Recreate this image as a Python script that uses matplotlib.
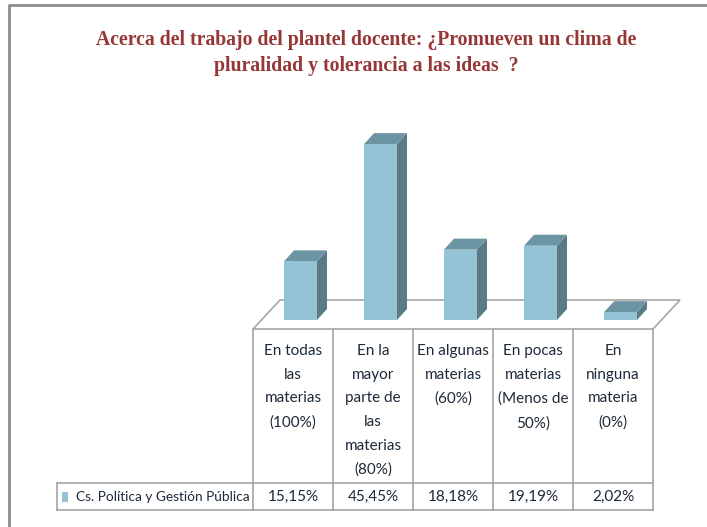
import matplotlib.pyplot as plt
from matplotlib.patches import Polygon, Rectangle

categories = ["En todas\nlas\nmaterias\n(100%)",
              "En la\nmayor\nparte de\nlas\nmaterias\n(80%)",
              "En algunas\nmaterias\n(60%)",
              "En pocas\nmaterias\n(Menos de\n50%)",
              "En\nninguna\nmateria\n(0%)"]
values = [15.15, 45.45, 18.18, 19.19, 2.02]
value_labels = ["15,15%", "45,45%", "18,18%", "19,19%", "2,02%"]
series_name = "Cs. Política y Gestión Pública"
title = "Acerca del trabajo del plantel docente: ¿Promueven un clima de\npluralidad y tolerancia a las ideas  ?"

FRONT = "#93c3d4"
TOP = "#6c95a3"
SIDE = "#5b7a85"
GRID = "#a6a6a6"
TXT = "#1c2a38"
TFONT = ["Lato", "DejaVu Sans"]

W, H = 707, 527
fig = plt.figure(figsize=(W / 100, H / 100), dpi=100)

# background axes in pixel units for frame, title and table
bg = fig.add_axes([0, 0, 1, 1])
bg.set_xlim(0, W)
bg.set_ylim(H, 0)
bg.axis("off")
bg.plot([9, 9, W + 5], [H + 5, 5, 5], color="#8c8c8c", lw=2)

bg.text(366, 53, title, ha="center", va="center", color="#953735",
        fontsize=14.2, fontweight="bold", family=["Liberation Serif", "DejaVu Serif"],
        linespacing=1.45)

# chart axes: x in category slots, y in percent
PX = 3.87      # pixels per percent
left, right = 253, 653
slot = (right - left) / len(values)
y0 = 320
ax = fig.add_axes([left / W, (H - 335) / H, (right - left) / W, (335 - 100) / H])
ax.set_xlim(0, len(values))
ax.set_ylim(-(335 - y0) / PX, (y0 - 100) / PX)
ax.axis("off")

# floor
fdx, fdy = 27 / slot, 29 / PX
ff = -9 / PX
floor = Polygon([(0, ff), (len(values), ff), (len(values) + fdx, ff + fdy), (fdx, ff + fdy)],
                closed=True, facecolor="white", edgecolor=GRID, lw=1.2, clip_on=False, zorder=1)
ax.add_patch(floor)

bw = 33 / slot
off = 31 / slot
ddx, ddy = 10 / slot, 11 / PX
for i, v in enumerate(values):
    x0 = i + off
    side = Polygon([(x0 + bw, 0), (x0 + bw + ddx, ddy), (x0 + bw + ddx, v + ddy), (x0 + bw, v)],
                   closed=True, facecolor=SIDE, edgecolor="none", clip_on=False, zorder=3)
    top = Polygon([(x0, v), (x0 + bw, v), (x0 + bw + ddx, v + ddy), (x0 + ddx, v + ddy)],
                  closed=True, facecolor=TOP, edgecolor="none", clip_on=False, zorder=3)
    ax.add_patch(side)
    ax.add_patch(top)
    ax.bar(x0, v, width=bw, align="edge", color=FRONT, zorder=4)

# data table
cols = [left + slot * i for i in range(len(values) + 1)]
hdr_top, row_top, row_bot = 329, 483, 510
for x in cols:
    bg.plot([x, x], [hdr_top, row_bot], color=GRID, lw=1.2)
bg.plot([57, right], [row_top, row_top], color=GRID, lw=1.2)
bg.plot([57, right], [row_bot, row_bot], color=GRID, lw=1.2)
bg.plot([57, 57], [row_top, row_bot], color=GRID, lw=1.2)

for i, (c, lab) in enumerate(zip(categories, value_labels)):
    cx = (cols[i] + cols[i + 1]) / 2
    bg.text(cx, 344, c, ha="center", va="top", color=TXT, fontsize=11,
            family=TFONT, linespacing=1.88)
    bg.text(cx, 497, lab, ha="center", va="center", color=TXT, fontsize=11,
            family=TFONT)

bg.add_patch(Rectangle((62, 492), 6, 10, facecolor=FRONT, edgecolor="none"))
bg.text(76, 497, series_name, ha="left", va="center", color=TXT, fontsize=9.8,
        family=TFONT)

fig.savefig("out.png", dpi=100)
